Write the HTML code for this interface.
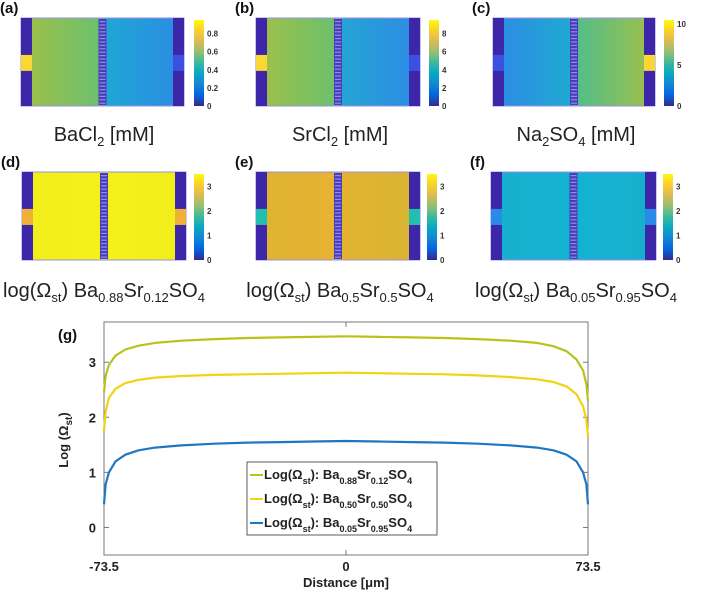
<!DOCTYPE html>
<html><head><meta charset="utf-8"><style>
body{margin:0;background:#fff;width:707px;height:593px;overflow:hidden;font-family:"Liberation Sans",sans-serif}
svg{position:absolute;left:0;top:0}
.cap{font-family:"Liberation Sans","DejaVu Sans",sans-serif;font-size:20px;fill:#222}
.pl{font-weight:bold;font-size:15px;fill:#111}
.cb{font-size:8px;font-weight:bold;fill:#333}
.ax{font-weight:bold;font-size:13px;fill:#222}
</style></head><body>
<svg id="fig" width="707" height="593">
<defs>
<linearGradient id="parula" x1="0" y1="1" x2="0" y2="0">
<stop offset="0" stop-color="#352a87"/><stop offset="0.125" stop-color="#0363e1"/><stop offset="0.25" stop-color="#1485d4"/><stop offset="0.375" stop-color="#06a7c6"/><stop offset="0.5" stop-color="#38b99e"/><stop offset="0.625" stop-color="#92bf73"/><stop offset="0.75" stop-color="#d9ba56"/><stop offset="0.875" stop-color="#fcce2e"/><stop offset="1" stop-color="#f9fb0e"/>
</linearGradient>
</defs>
<g id="panels"></g>
<g>
<text class="cap" x="104" y="141" text-anchor="middle">BaCl<tspan font-size="13" dy="5">2</tspan><tspan dy="-5"> [mM]</tspan></text>
<text class="cap" x="340" y="141" text-anchor="middle">SrCl<tspan font-size="13" dy="5">2</tspan><tspan dy="-5"> [mM]</tspan></text>
<text class="cap" x="576" y="141" text-anchor="middle">Na<tspan font-size="13" dy="5">2</tspan><tspan dy="-5">SO</tspan><tspan font-size="13" dy="5">4</tspan><tspan dy="-5"> [mM]</tspan></text>
<text class="cap" x="104" y="297" text-anchor="middle">log(Ω<tspan font-size="13" dy="5">st</tspan><tspan dy="-5">) Ba</tspan><tspan font-size="13" dy="5">0.88</tspan><tspan dy="-5">Sr</tspan><tspan font-size="13" dy="5">0.12</tspan><tspan dy="-5">SO</tspan><tspan font-size="13" dy="5">4</tspan></text>
<text class="cap" x="340" y="297" text-anchor="middle">log(Ω<tspan font-size="13" dy="5">st</tspan><tspan dy="-5">) Ba</tspan><tspan font-size="13" dy="5">0.5</tspan><tspan dy="-5">Sr</tspan><tspan font-size="13" dy="5">0.5</tspan><tspan dy="-5">SO</tspan><tspan font-size="13" dy="5">4</tspan></text>
<text class="cap" x="576" y="297" text-anchor="middle">log(Ω<tspan font-size="13" dy="5">st</tspan><tspan dy="-5">) Ba</tspan><tspan font-size="13" dy="5">0.05</tspan><tspan dy="-5">Sr</tspan><tspan font-size="13" dy="5">0.95</tspan><tspan dy="-5">SO</tspan><tspan font-size="13" dy="5">4</tspan></text>
</g>
<g id="chart">
<text class="pl" x="58" y="340">(g)</text>
<text class="ax" font-size="14" transform="translate(68,440) rotate(-90)" text-anchor="middle">Log (Ω<tspan font-size="10" dy="4">st</tspan><tspan dy="-4">)</tspan></text>
<text class="ax" font-size="14" x="346" y="587" text-anchor="middle">Distance [μm]</text>
<g id="plot"></g>
</g>
</svg>
<script>
// ----- chart data -----
const xs = [-73.5,-73,-72,-70,-67,-63,-58,-50,-40,-30,-20,-10,0,10,20,30,40,50,58,63,67,70,72,73,73.5];
const s1 = [2.45,2.75,2.95,3.12,3.23,3.3,3.35,3.39,3.42,3.44,3.45,3.46,3.47,3.46,3.45,3.44,3.42,3.39,3.35,3.29,3.2,3.05,2.85,2.6,2.3];
const s2 = [1.75,2.1,2.35,2.52,2.62,2.68,2.72,2.75,2.77,2.78,2.79,2.8,2.81,2.8,2.79,2.78,2.76,2.73,2.69,2.64,2.56,2.42,2.2,1.95,1.65];
const s3 = [0.42,0.78,1.0,1.2,1.32,1.4,1.45,1.49,1.52,1.54,1.55,1.56,1.57,1.56,1.55,1.54,1.52,1.49,1.45,1.4,1.32,1.2,1.0,0.78,0.42];
const xTicks = [-73.5,0,73.5];
const xTickLabels = ["-73.5","0","73.5"];
const yTicks = [0,1,2,3];
const yTickLabels = ["0","1","2","3"];
const seriesNames = ["0.88|0.12","0.50|0.50","0.05|0.95"];
const NS="http://www.w3.org/2000/svg";
const L=104,R=588,T=322,B=555,xmin=-73.5,xmax=73.5,ymin=-0.5,ymax=3.73;
const sx=v=>L+(v-xmin)/(xmax-xmin)*(R-L);
const sy=v=>B-(v-ymin)/(ymax-ymin)*(B-T);
function mk(tag,at,parent){const e=document.createElementNS(NS,tag);for(const k in at)e.setAttribute(k,at[k]);parent.appendChild(e);return e;}
const plot=document.getElementById('plot');
let frame=mk('rect',{x:L,y:T,width:R-L,height:B-T,fill:'none',stroke:'#777','stroke-width':1},plot);


xTicks.forEach((t,i)=>{
 mk('line',{x1:sx(t),x2:sx(t),y1:B,y2:B-5,stroke:'#777'},plot);
 mk('line',{x1:sx(t),x2:sx(t),y1:T,y2:T+5,stroke:'#777'},plot);
 const tx=mk('text',{x:sx(t),y:B+16,'text-anchor':'middle',class:'ax'},plot);tx.textContent=xTickLabels[i];
 
 
});
yTicks.forEach((t,i)=>{
 mk('line',{x1:L,x2:L+5,y1:sy(t),y2:sy(t),stroke:'#777'},plot);
 mk('line',{x1:R,x2:R-5,y1:sy(t),y2:sy(t),stroke:'#777'},plot);
 const tx=mk('text',{x:L-8,y:sy(t)+5,'text-anchor':'end',class:'ax'},plot);tx.textContent=yTickLabels[i];
 
 
});
const cols=['#b9c21b','#f3d20f','#1f77c4'];
[s1,s2,s3].forEach((s,k)=>{
 const p=mk('path',{d:s.map((v,i)=>(i?'L':'M')+sx(xs[i]).toFixed(1)+','+sy(v).toFixed(1)).join(''),fill:'none',stroke:cols[k],'stroke-width':2.2,'stroke-linejoin':'round'},plot);
 
 
});
// legend
const lg=mk('g',{},plot);


mk('rect',{x:247,y:462,width:190,height:73,fill:'#fff',stroke:'#333','stroke-width':0.8},lg);
seriesNames.forEach((n,k)=>{
 const y=475+k*24, [a,b]=n.split('|');
 mk('line',{x1:250,x2:263,y1:y,y2:y,stroke:cols[k],'stroke-width':2},lg);
 const t=mk('text',{x:264,y:y+4,class:'ax'},lg);
 
 
 t.innerHTML='Log(Ω<tspan font-size="9" dy="5">st</tspan><tspan dy="-5">): Ba</tspan><tspan font-size="9" dy="5">'+a+'</tspan><tspan dy="-5">Sr</tspan><tspan font-size="9" dy="5">'+b+'</tspan><tspan dy="-5">SO</tspan><tspan font-size="9" dy="5">4</tspan>';
});
// ----- heatmap panels -----
const panelLabels=['(a)','(b)','(c)','(d)','(e)','(f)'];
const cbTicks=[["0","0.2","0.4","0.6","0.8"],["0","2","4","6","8"],["0","5","10"],["0","1","2","3"],["0","1","2","3"],["0","1","2","3"]];
const cbMax=[0.95,9.5,10.5,3.5,3.5,3.5];
const P=[
 {x:21,y:18,w:163,cb:194,l:'#a2c046',lm:'#6ec06c',rm:'#20a6d4',r:'#2d8ae6',il:'#fbd734',ir:'#3b4fe0'},
 {x:256,y:18,w:164,cb:429,l:'#a2c046',lm:'#6ec06c',rm:'#24a4d4',r:'#2e8ae6',il:'#fbd734',ir:'#3b4fe0'},
 {x:493,y:18,w:162,cb:664,l:'#2e8ae6',lm:'#20a8d2',rm:'#55be88',r:'#a2c046',il:'#3b4fe0',ir:'#fbd734'},
 {x:22,y:172,w:164,cb:194,l:'#f2ee1c',lm:'#f4f01a',rm:'#f4f01a',r:'#f2ee1c',il:'#efb039',ir:'#efb039'},
 {x:256,y:172,w:164,cb:427,l:'#dcb431',lm:'#e9b232',rm:'#e4b32f',r:'#d6b533',il:'#22bfb0',ir:'#22bfb0'},
 {x:491,y:172,w:165,cb:663,l:'#17b0cd',lm:'#14b2d1',rm:'#14b2d1',r:'#17b0cd',il:'#2a8ae8',ir:'#2a8ae8'}
];
const H=88, g=document.getElementById('panels'), defs=document.querySelector('defs');
P.forEach((p,i)=>{
 const G=mk('g',{},g);
 
 
 const lt=mk('text',{x:p.x-21,y:p.y-5,class:'pl'},G);lt.textContent=panelLabels[i];
 const gd=mk('linearGradient',{id:'g'+i,x1:0,x2:1,y1:0,y2:0},defs);
 [[0,p.l],[0.47,p.lm],[0.53,p.rm],[1,p.r]].forEach(s=>mk('stop',{offset:s[0],'stop-color':s[1]},gd));
 mk('rect',{x:p.x,y:p.y,width:p.w,height:H,fill:'url(#g'+i+')',stroke:'#9a8fe0','stroke-width':1},G);
 const bw=11, n0=p.y+H*0.42, n1=p.y+H*0.6;
 mk('rect',{x:p.x,y:p.y,width:bw,height:n0-p.y,fill:'#3e26a8'},G);
 mk('rect',{x:p.x,y:n1,width:bw,height:p.y+H-n1,fill:'#3e26a8'},G);
 mk('rect',{x:p.x,y:n0,width:bw,height:n1-n0,fill:p.il},G);
 mk('rect',{x:p.x+p.w-bw,y:p.y,width:bw,height:n0-p.y,fill:'#3e26a8'},G);
 mk('rect',{x:p.x+p.w-bw,y:n1,width:bw,height:p.y+H-n1,fill:'#3e26a8'},G);
 mk('rect',{x:p.x+p.w-bw,y:n0,width:bw,height:n1-n0,fill:p.ir},G);
 const cx=p.x+p.w/2-4;
 mk('rect',{x:cx,y:p.y+1,width:8,height:H-2,fill:'#4a3cc0'},G);
 for(let yy=p.y+3;yy<p.y+H-2;yy+=3.4) mk('rect',{x:cx+1,y:yy,width:6,height:1.2,fill:'#8f8fd8'},G);
 const cb=mk('rect',{x:p.cb,y:p.y+2,width:10,height:H-2,fill:'url(#parula)'},G);
 
 
 const vals=cbTicks[i];
 vals.forEach(v=>{
  const yy=p.y+H-(parseFloat(v)/cbMax[i])*(H-2);
  const t=mk('text',{x:p.cb+13,y:yy+3,class:'cb'},G);t.textContent=v;
 });
});
</script>
</body></html>
